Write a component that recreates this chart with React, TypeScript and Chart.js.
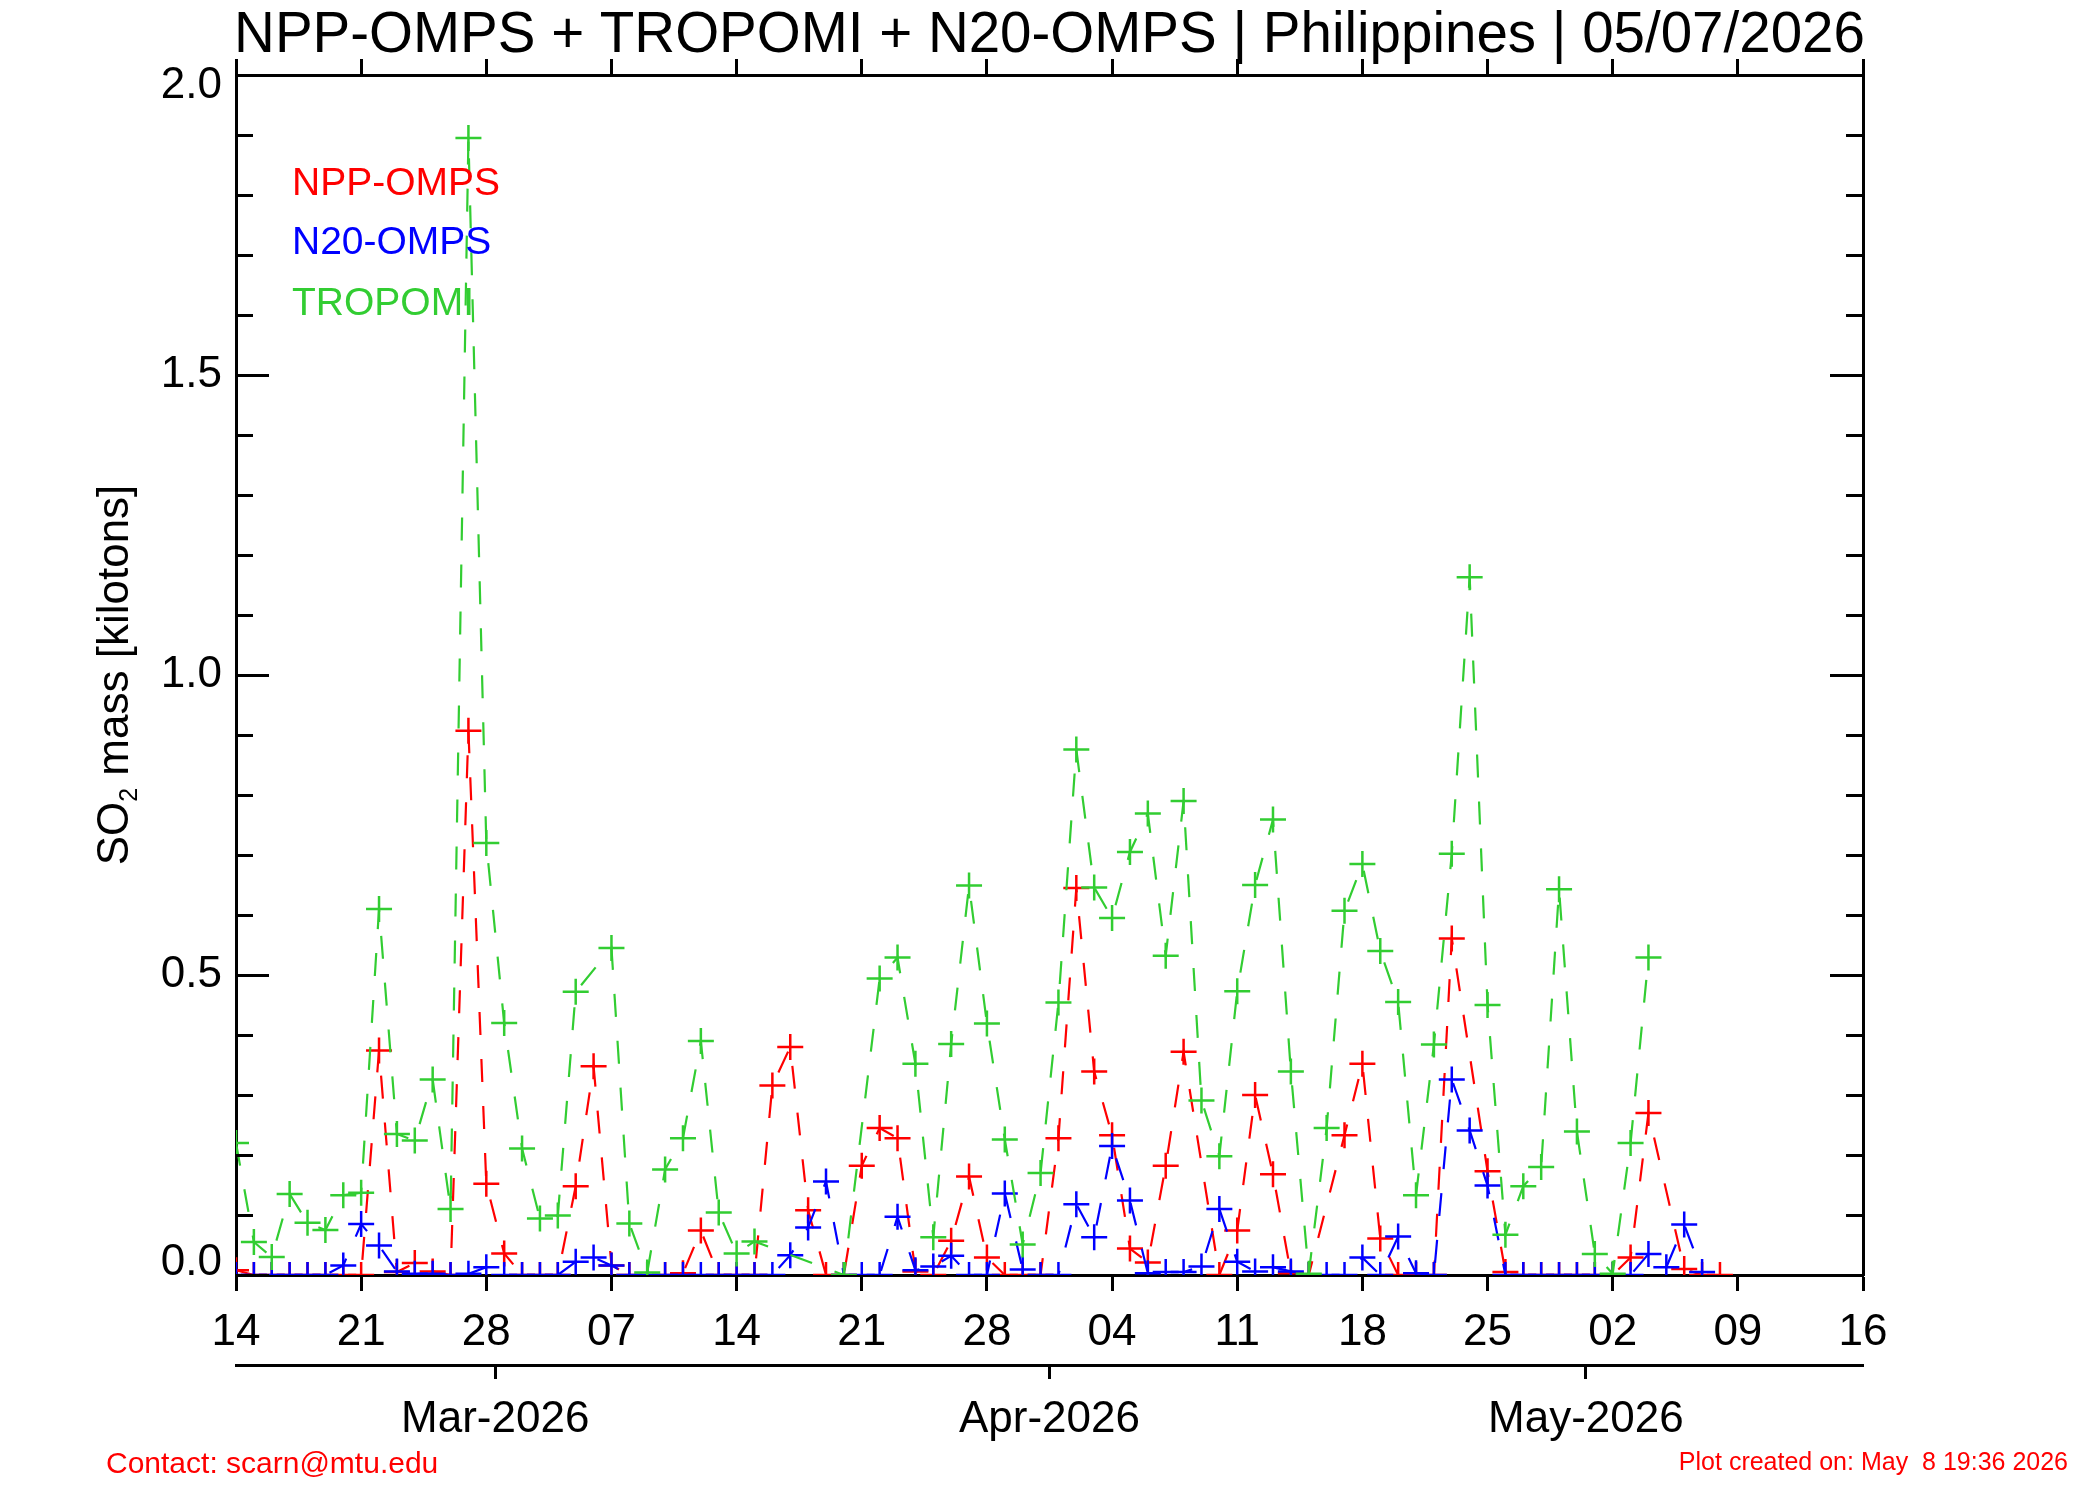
import React, { useEffect, useRef } from "react";
import { Chart, registerables } from "chart.js";

Chart.register(...registerables);

// ---------------- data ----------------
const START_DATE = "2026-02-14"; // day index 0
const DAY_TICKS = [0, 7, 14, 21, 28, 35, 42, 49, 56, 63, 70, 77, 84, 91];
const MONTH_TICK_DAYS = [14.5, 45.5, 75.5];
const MONTH_LABELS = ["Mar-2026", "Apr-2026", "May-2026"];
const Y_TICKS = [0, 0.5, 1.0, 1.5, 2.0];
const Y_MINOR_STEP = 0.1;

const TITLE = "NPP-OMPS + TROPOMI + N20-OMPS | Philippines | 05/07/2026";
const CONTACT = "Contact: scarn@mtu.edu";
const CREATED = "Plot created on: May  8 19:36 2026";

// SO2 mass [kilotons], one value per day from Feb 14 (null = no observation)
const TROPOMI = [
  0.22, 0.055, 0.03, 0.135, 0.087, 0.075, 0.133, 0.137, 0.61, 0.235,
  0.224, 0.326, 0.11, 1.895, 0.72, 0.42, 0.211, 0.094, 0.099, 0.472,
  null, 0.545, 0.086, 0.004, 0.176, 0.228, 0.39, 0.104, 0.036, 0.056,
  null, null, null, null, 0.0, null, 0.494, 0.529, 0.352, 0.063,
  0.385, 0.649, 0.419, 0.226, 0.051, 0.17, 0.454, 0.876, 0.646, 0.595,
  0.705, 0.769, 0.532, 0.79, 0.291, 0.198, 0.473, 0.65, 0.759, 0.339,
  0.002, 0.245, 0.607, 0.685, 0.54, 0.455, 0.133, 0.384, 0.702, 1.163,
  0.45, 0.067, 0.148, 0.18, 0.643, 0.239, 0.035, 0.002, 0.22, 0.529,
];

const NPP_OMPS = [
  0.008, 0, 0, 0, 0, 0, 0, 0, 0.374, 0.005,
  0.02, 0.006, 0, 0.907, 0.152, 0.036, 0, 0, 0, 0.148,
  0.348, 0.016, 0, 0, 0, 0.003, 0.074, 0, 0, 0,
  0.316, 0.38, 0.108, 0, 0, 0.182, 0.245, 0.228, 0.006, 0,
  0.057, 0.164, 0.029, 0, 0, 0, 0.228, 0.645, 0.339, 0.233,
  0.044, 0.021, 0.182, 0.372, null, 0, 0.074, 0.3, 0.168, 0.003,
  0, null, 0.233, 0.352, 0.061, 0, 0, 0, 0.561, null,
  0.173, 0.005, 0, 0, 0, 0, 0, 0, 0.029, 0.27,
  null, 0.01, 0, 0,
];

const N20_OMPS = [
  0, 0, 0, 0, 0, 0, 0.016, 0.085, 0.049, 0.006,
  0.002, 0.002, 0, 0.002, 0.013, 0, 0, 0, 0, 0.022,
  0.029, 0.016, 0, 0, 0, 0, 0, 0, 0, 0,
  0, 0.033, 0.079, 0.156, 0, 0, 0, 0.097, 0.008, 0.014,
  0.032, 0, 0, 0.136, 0.009, 0, 0, 0.118, 0.063, 0.215,
  0.124, 0.003, 0.005, 0.005, 0.014, 0.11, 0.022, 0.006, 0.013, 0.006,
  0, 0, 0, 0.029, 0, 0.064, 0.003, 0, 0.326, 0.241,
  0.149, 0, 0, 0, 0, 0, 0, 0, 0, 0.035,
  0.013, 0.084, 0.005,
];

const RED = "#ff0000";
const BLUE = "#0000ff";
const GREEN = "#32cd32";
const FONT = "'Liberation Sans', Arial, Helvetica, sans-serif";

const startMs = Date.parse(START_DATE + "T00:00:00Z");
const dayLabel = (v: number) =>
  String(new Date(startMs + v * 86400000).getUTCDate()).padStart(2, "0");

const toXY = (arr: (number | null)[]) => arr.map((v, i) => ({ x: i, y: v }));

const decorPlugin = {
  id: "idlDecor",
  afterDraw(chart: any) {
    const ctx: CanvasRenderingContext2D = chart.ctx;
    const area = chart.chartArea;
    const y = chart.scales.y;
    ctx.save();
    // inward y tick marks on both sides
    ctx.strokeStyle = "#000";
    ctx.lineWidth = 3;
    const nMinor = Math.round((y.max - y.min) / Y_MINOR_STEP);
    for (let k = 0; k <= nMinor; k++) {
      const v = y.min + k * Y_MINOR_STEP;
      const py = Math.round(y.getPixelForValue(v)) + 0.5;
      const major = Y_TICKS.some((t) => Math.abs(t - v) < 1e-6);
      const len = major ? 33 : 17;
      ctx.beginPath();
      ctx.moveTo(area.left, py);
      ctx.lineTo(area.left + len, py);
      ctx.moveTo(area.right, py);
      ctx.lineTo(area.right - len, py);
      ctx.stroke();
    }
    // y tick labels
    ctx.fillStyle = "#000";
    ctx.font = `44px ${FONT}`;
    ctx.textAlign = "right";
    for (const t of Y_TICKS) {
      const py = y.getPixelForValue(t);
      if (t === y.min) {
        ctx.textBaseline = "alphabetic";
        ctx.fillText(t.toFixed(1), area.left - 14, py);
      } else if (t === y.max) {
        ctx.textBaseline = "middle";
        ctx.fillText(t.toFixed(1), area.left - 14, py + 11);
      } else {
        ctx.textBaseline = "middle";
        ctx.fillText(t.toFixed(1), area.left - 14, py);
      }
    }
    // title
    ctx.textAlign = "center";
    ctx.textBaseline = "alphabetic";
    ctx.font = `56.5px ${FONT}`;
    ctx.fillText(TITLE, (area.left + area.right) / 2, 52);
    // legend (coloured text only)
    ctx.textAlign = "left";
    ctx.font = `39px ${FONT}`;
    const legend = [
      ["NPP-OMPS", RED, 195],
      ["N20-OMPS", BLUE, 254],
      ["TROPOMI", GREEN, 315],
    ] as const;
    for (const [txt, col, by] of legend) {
      ctx.fillStyle = col;
      ctx.fillText(txt, area.left + 56, by);
    }
    // y axis title with subscript
    ctx.save();
    ctx.translate(128, (area.top + area.bottom) / 2);
    ctx.rotate(-Math.PI / 2);
    ctx.fillStyle = "#000";
    const big = `44px ${FONT}`;
    const small = `25px ${FONT}`;
    ctx.font = big;
    const w1 = ctx.measureText("SO").width;
    const w3 = ctx.measureText(" mass [kilotons]").width;
    ctx.font = small;
    const w2 = ctx.measureText("2").width;
    let x0 = -(w1 + w2 + w3) / 2;
    ctx.textAlign = "left";
    ctx.font = big;
    ctx.fillText("SO", x0, 0);
    x0 += w1;
    ctx.font = small;
    ctx.fillText("2", x0, 9);
    x0 += w2;
    ctx.font = big;
    ctx.fillText(" mass [kilotons]", x0, 0);
    ctx.restore();
    // footer
    ctx.fillStyle = RED;
    ctx.textAlign = "left";
    ctx.font = `30px ${FONT}`;
    ctx.fillText(CONTACT, 106, 1473);
    ctx.textAlign = "right";
    ctx.font = `25px ${FONT}`;
    ctx.fillText(CREATED, 2068, 1470);
    ctx.restore();
  },
};

export default function App() {
  const ref = useRef<HTMLCanvasElement | null>(null);

  useEffect(() => {
    if (!ref.current) return;
    const common = {
      borderWidth: 2.2,
      borderDash: [23, 24],
      pointStyle: "cross",
      pointRadius: 13,
      pointHoverRadius: 13,
      pointBorderWidth: 2.5,
      spanGaps: true,
      tension: 0,
      fill: false,
    };
    const dayAxis = (position: string, showLabels: boolean, h: number) => ({
      type: "linear",
      position,
      min: 0,
      max: 91,
      afterBuildTicks: (s: any) => {
        s.ticks = DAY_TICKS.map((v) => ({ value: v }));
      },
      ticks: {
        display: showLabels,
        callback: (v: number) => dayLabel(v),
        font: { family: FONT, size: 44 },
        color: "#000",
        padding: 15,
        maxRotation: 0,
        autoSkip: false,
      },
      grid: {
        display: true,
        drawOnChartArea: false,
        drawTicks: true,
        tickLength: 16,
        tickWidth: 3,
        tickColor: "#000",
        color: "#000",
      },
      border: { display: true, color: "#000", width: 3 },
      afterFit: (s: any) => {
        s.height = h;
      },
    });

    const chart = new Chart(ref.current, {
      type: "line",
      data: {
        datasets: [
          { label: "TROPOMI", data: toXY(TROPOMI), borderColor: GREEN, backgroundColor: GREEN, ...common },
          { label: "N20-OMPS", data: toXY(N20_OMPS), borderColor: BLUE, backgroundColor: BLUE, ...common },
          { label: "NPP-OMPS", data: toXY(NPP_OMPS), borderColor: RED, backgroundColor: RED, ...common },
        ] as any,
      },
      options: {
        responsive: false,
        animation: false,
        devicePixelRatio: 1,
        events: [],
        layout: { padding: 0 },
        plugins: { legend: { display: false }, title: { display: false }, tooltip: { enabled: false } },
        scales: {
          x: { ...dayAxis("bottom", true, 90), weight: 0 },
          xTop: { ...dayAxis("top", false, 75) },
          x2: {
            type: "linear",
            position: "bottom",
            weight: 1,
            min: 0,
            max: 91,
            afterBuildTicks: (s: any) => {
              s.ticks = MONTH_TICK_DAYS.map((v) => ({ value: v }));
            },
            ticks: {
              callback: (_v: number, i: number) => MONTH_LABELS[i],
              font: { family: FONT, size: 44 },
              color: "#000",
              padding: 14,
              maxRotation: 0,
              autoSkip: false,
            },
            grid: {
              display: true,
              drawOnChartArea: false,
              drawTicks: true,
              tickLength: 14,
              tickWidth: 3,
              tickColor: "#000",
              color: "#000",
            },
            border: { display: true, color: "#000", width: 3 },
            afterFit: (s: any) => {
              s.height = 135;
            },
          },
          y: {
            type: "linear",
            position: "left",
            min: 0,
            max: 2,
            ticks: { display: false },
            grid: { display: false },
            border: { display: true, color: "#000", width: 3 },
            afterFit: (s: any) => {
              s.width = 236;
            },
          },
          y2: {
            type: "linear",
            position: "right",
            min: 0,
            max: 2,
            ticks: { display: false },
            grid: { display: false },
            border: { display: true, color: "#000", width: 3 },
            afterFit: (s: any) => {
              s.width = 237;
            },
          },
        } as any,
      },
      plugins: [decorPlugin],
    } as any);
    return () => chart.destroy();
  }, []);

  return (
    <div style={{ position: "absolute", left: 0, top: 0, width: 2100, height: 1500, background: "#fff" }}>
      <canvas ref={ref} width={2100} height={1500} style={{ display: "block", width: 2100, height: 1500 }} />
    </div>
  );
}
